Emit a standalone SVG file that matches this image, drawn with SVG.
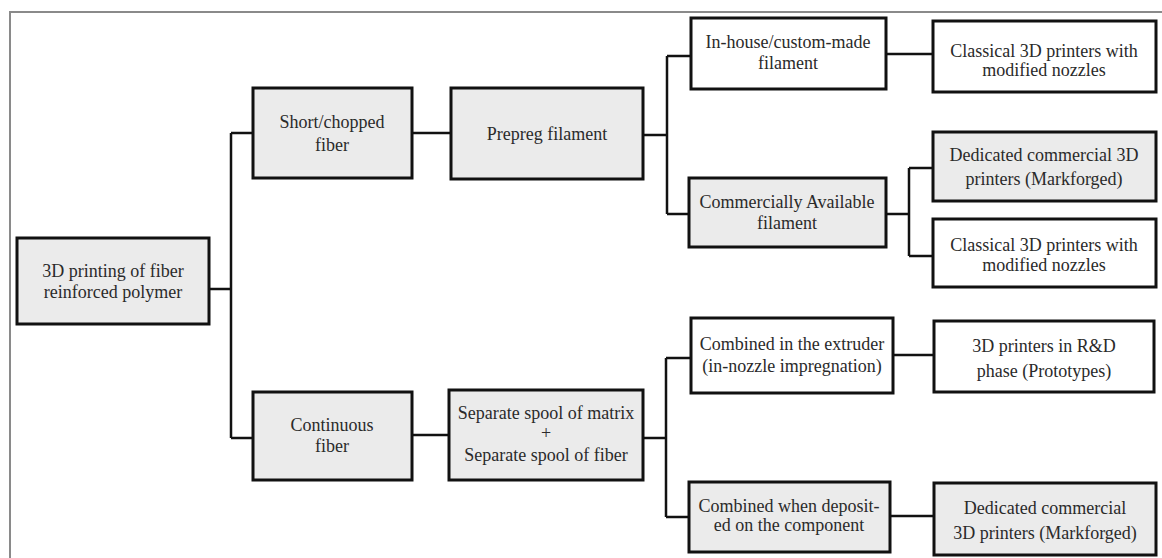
<svg xmlns="http://www.w3.org/2000/svg" width="1162" height="558" viewBox="0 0 1162 558">
<style>
.b{stroke:#111;stroke-width:3;}
.g{fill:#ebebeb;}
.w{fill:#fff;}
text{font-family:'Liberation Serif','DejaVu Serif',serif;font-size:18px;fill:#2a2a2a;text-anchor:middle;}
.c{fill:none;stroke:#111;stroke-width:2.5;}
.f{fill:none;stroke:#8a8a8a;stroke-width:2;}
</style>
<rect width="1162" height="558" fill="#fff"/>
<path class="f" d="M10,560 V12 H1164"/>
<g id="connectors">
<path class="c" d="M209,289 H231 M231,133 V438 M231,133 H253 M231,438 H253"/>
<path class="c" d="M412,133 H451"/>
<path class="c" d="M643,135 H667 M667,56 V214 M667,56 H691 M667,214 H689"/>
<path class="c" d="M886,54 H933"/>
<path class="c" d="M886,214 H909 M909,168 V256 M909,168 H933 M909,256 H933"/>
<path class="c" d="M412,435 H449"/>
<path class="c" d="M643,438 H666 M666,358 V517 M666,358 H691 M666,517 H689"/>
<path class="c" d="M893,355 H934"/>
<path class="c" d="M890,516 H934"/>
</g>
<g id="root"><rect class="b g" x="17" y="238" width="192" height="86"/>
<text x="113" y="277" font-family="Liberation Serif, serif">3D printing of fiber</text><text x="113" y="298">reinforced polymer</text></g>
<g id="short"><rect class="b g" x="253" y="88" width="159" height="90"/>
<text x="332" y="128">Short/chopped</text><text x="332" y="151">fiber</text></g>
<g id="continuous"><rect class="b g" x="253" y="392" width="159" height="88"/>
<text x="332" y="431">Continuous</text><text x="332" y="452">fiber</text></g>
<g id="prepreg"><rect class="b g" x="451" y="88" width="192" height="91"/>
<text x="547" y="140">Prepreg filament</text></g>
<g id="separate"><rect class="b g" x="449" y="390" width="194" height="90"/>
<text x="546" y="419">Separate spool of matrix</text><text x="546" y="439">+</text><text x="546" y="461">Separate spool of fiber</text></g>
<g id="inhouse"><rect class="b w" x="691" y="18" width="195" height="71"/>
<text x="788" y="48">In-house/custom-made</text><text x="788" y="69">filament</text></g>
<g id="commercial"><rect class="b g" x="689" y="178" width="197" height="69"/>
<text x="787" y="208">Commercially Available</text><text x="787" y="229">filament</text></g>
<g id="classical1"><rect class="b w" x="933" y="21" width="223" height="71"/>
<text x="1044" y="57">Classical 3D printers with</text><text x="1044" y="76">modified nozzles</text></g>
<g id="dedicated1"><rect class="b g" x="933" y="132" width="223" height="69"/>
<text x="1044" y="161">Dedicated commercial 3D</text><text x="1044" y="185">printers (Markforged)</text></g>
<g id="classical2"><rect class="b w" x="933" y="219" width="223" height="68"/>
<text x="1044" y="251">Classical 3D printers with</text><text x="1044" y="271">modified nozzles</text></g>
<g id="extruder"><rect class="b w" x="691" y="318" width="202" height="75"/>
<text x="792" y="350">Combined in the extruder</text><text x="792" y="372">(in-nozzle impregnation)</text></g>
<g id="deposit"><rect class="b g" x="689" y="482" width="201" height="70"/>
<text x="789" y="512">Combined when deposit-</text><text x="789" y="531">ed on the component</text></g>
<g id="rnd"><rect class="b w" x="934" y="321" width="220" height="71"/>
<text x="1044" y="352">3D printers in R&amp;D</text><text x="1044" y="377">phase (Prototypes)</text></g>
<g id="dedicated2"><rect class="b g" x="934" y="483" width="222" height="72"/>
<text x="1045" y="514">Dedicated commercial</text><text x="1045" y="539">3D printers (Markforged)</text></g>
</svg>
